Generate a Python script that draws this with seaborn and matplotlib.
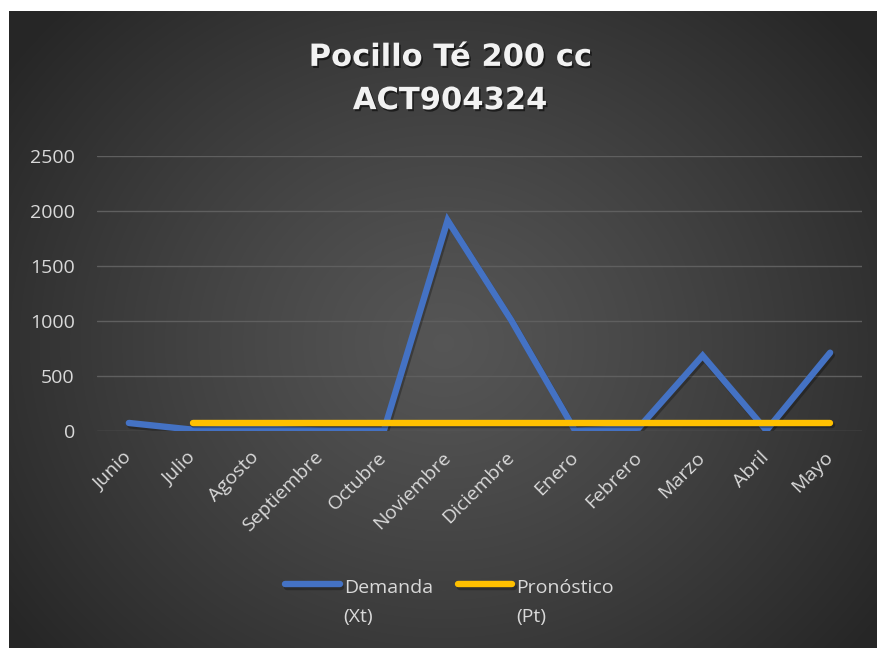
import numpy as np
import pandas as pd
import matplotlib
matplotlib.use("Agg")
import matplotlib.pyplot as plt
import matplotlib.patheffects as pe
from matplotlib.lines import Line2D
from matplotlib.legend_handler import HandlerLine2D
import seaborn as sns

months = ["Junio", "Julio", "Agosto", "Septiembre", "Octubre", "Noviembre",
          "Diciembre", "Enero", "Febrero", "Marzo", "Abril", "Mayo"]
demanda = [73, 12, 22, 5, 5, 1915, 1005, 3, 30, 685, 5, 712]
pronostico = [np.nan, 77, 77, 77, 77, 77, 77, 77, 77, 77, 77, 77]
y_ticks = [0, 500, 1000, 1500, 2000, 2500]

lbl_d = "Demanda\n(Xt)"
lbl_p = "Pronóstico\n(Pt)"

df = pd.DataFrame({
    "mes": months * 2,
    "valor": demanda + pronostico,
    "serie": [lbl_d] * len(months) + [lbl_p] * len(months),
})

sns.set_theme(style="dark")
plt.rcParams["font.family"] = ["Open Sans", "DejaVu Sans"]

W, H = 877, 648
fig = plt.figure(figsize=(W / 100, H / 100), dpi=100, facecolor="white")

# dark radial-gradient chart area
bg = fig.add_axes([9 / W, 0, 1 - 9 / W, 1 - 11 / H])
bg.set_axis_off()
ny, nx = 400, 540
yy, xx = np.mgrid[0:ny, 0:nx]
cx, cy = nx * 0.50, ny * 0.52
r = np.sqrt(((xx - cx) / (nx * 0.62)) ** 2 + ((yy - cy) / (ny * 0.75)) ** 2)
r = np.clip(r, 0, 1)
val = 0.335 - (0.335 - 0.15) * r ** 1.2
img = np.dstack([val, val, val])
bg.imshow(img, aspect="auto", extent=[0, 1, 0, 1], interpolation="bilinear")
bg.set_xlim(0, 1)
bg.set_ylim(0, 1)

ax = fig.add_axes([97 / W, 1 - 431 / H, (862 - 97) / W, (431 - 156) / H])
ax.set_facecolor("none")

palette = {lbl_d: "#4472C4", lbl_p: "#FFC000"}
sns.lineplot(data=df, x="mes", y="valor", hue="serie", palette=palette,
             linewidth=4.6, ax=ax, sort=False, legend=True)

shadow = [pe.SimpleLineShadow(offset=(1.2, -1.8), alpha=0.28, shadow_color="black"),
          pe.Normal()]
for ln in ax.lines:
    ln.set_solid_capstyle("round")
    ln.set_solid_joinstyle("miter")
    ln.set_path_effects(shadow)

ax.set_xlim(-0.5, len(months) - 0.5)
ax.set_ylim(0, 2500)
ax.set_yticks(y_ticks)
ax.set_yticklabels([str(t) for t in y_ticks])
ax.set_xlabel("")
ax.set_ylabel("")
ax.grid(axis="y", color="#5f5f5f", linewidth=1)
ax.grid(axis="x", visible=False)
for s in ax.spines.values():
    s.set_visible(False)
ax.tick_params(axis="y", colors="#d9d9d9", labelsize=14, length=0, pad=16)
ax.tick_params(axis="x", colors="#d9d9d9", labelsize=14, length=0, pad=17)
for t in ax.get_xticklabels():
    t.set_rotation(45)
    t.set_ha("right")
    t.set_va("center")
    t.set_rotation_mode("anchor")


class TopAlignedLine(HandlerLine2D):
    """Legend line aligned with the first row of a two-row label."""
    def create_artists(self, legend, orig_handle, xdescent, ydescent, width,
                       height, fontsize, trans):
        arts = super().create_artists(legend, orig_handle, xdescent, ydescent,
                                      width, height, fontsize, trans)
        for a in arts:
            a.set_ydata(np.asarray(a.get_ydata()) + fontsize * 0.95)
        return arts


handles, labels = ax.get_legend_handles_labels()
leg = ax.legend(handles, labels, loc="upper center", bbox_to_anchor=(0.461, -0.475),
                ncol=2, frameon=False, fontsize=14, handlelength=2.8,
                handletextpad=0.2, columnspacing=1.3, labelcolor="#d9d9d9",
                handler_map={Line2D: TopAlignedLine()})
for h in leg.get_lines():
    h.set_linewidth(4.6)
    h.set_solid_capstyle("round")
for t in leg.get_texts():
    t.set_linespacing(1.75)

title = fig.text(0.513, 1 - 79 / H, "Pocillo Té 200 cc\nACT904324", ha="center",
                 va="center", fontsize=22, fontweight="bold", color="#f2f2f2",
                 linespacing=1.62, family="DejaVu Sans")
title.set_path_effects([pe.SimplePatchShadow(offset=(1.2, -1.5), alpha=0.55,
                                             shadow_rgbFace="black"), pe.Normal()])

fig.savefig("out.png", dpi=100, facecolor="white")
